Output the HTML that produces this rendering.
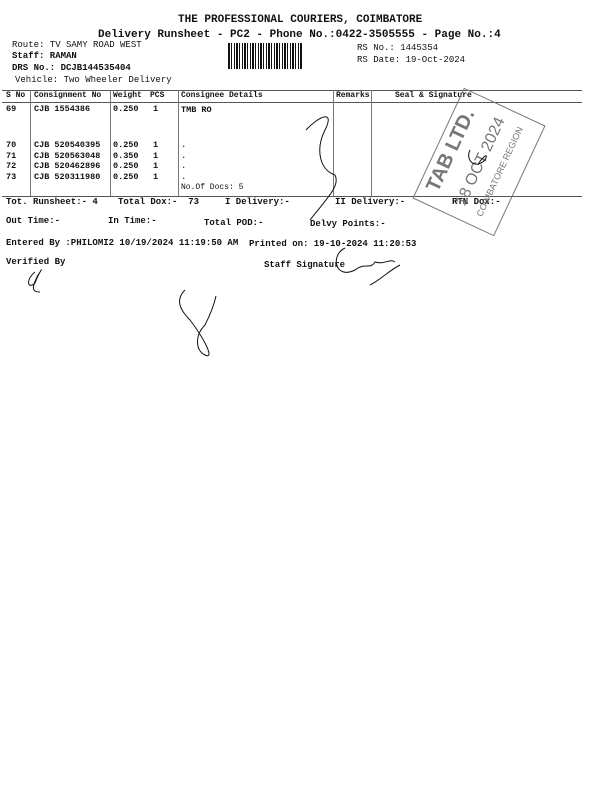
<!DOCTYPE html>
<html><head><style>
body{margin:0;width:600px;height:800px;background:#fff;position:relative;overflow:hidden;font-family:"Liberation Mono",monospace;color:#111}
.t{position:absolute;white-space:nowrap;font-size:9px;line-height:10px}
.b{font-weight:bold}
.r{position:absolute;white-space:nowrap;font-size:8.5px;line-height:10.5px;font-weight:bold}
.h{position:absolute;height:1px;background:#555;left:2px;width:580px}
.v{position:absolute;width:1px;background:#777;top:90px;height:106px}
</style></head><body>
<div class="t b" style="left:178px;top:14px;font-size:11px;line-height:13px">THE PROFESSIONAL COURIERS, COIMBATORE</div>
<div class="t b" style="left:98px;top:29px;font-size:11px;line-height:13px">Delivery Runsheet - PC2 - Phone No.:0422-3505555 - Page No.:4</div>
<div class="t" style="left:12px;top:40px">Route: TV SAMY ROAD WEST</div>
<div class="t b" style="left:12px;top:51px">Staff: RAMAN</div>
<div class="t b" style="left:12px;top:63px">DRS No.: DCJB144535404</div>
<div class="t" style="left:15px;top:75px">Vehicle: Two Wheeler Delivery</div>
<div class="t" style="left:357px;top:43px">RS No.: 1445354</div>
<div class="t" style="left:357px;top:55px">RS Date: 19-Oct-2024</div>
<div style="position:absolute;left:228px;top:43px;width:75px;height:26px;background:repeating-linear-gradient(90deg,#111 0 2px,#fff 2px 3px,#111 3px 4px,#fff 4px 6px,#111 6px 7px,#fff 7px 8px)"></div>
<div class="h" style="top:90px"></div>
<div class="h" style="top:102px"></div>
<div class="h" style="top:196px"></div>
<div class="v" style="left:30px"></div>
<div class="v" style="left:110px"></div>
<div class="v" style="left:178px"></div>
<div class="v" style="left:333px"></div>
<div class="v" style="left:371px"></div>
<div class="t b" style="left:6px;top:91px;font-size:8px">S No</div>
<div class="t b" style="left:34px;top:91px;font-size:8px">Consignment No</div>
<div class="t b" style="left:113px;top:91px;font-size:8px">Weight</div>
<div class="t b" style="left:150px;top:91px;font-size:8px">PCS</div>
<div class="t b" style="left:181px;top:91px;font-size:8px">Consignee Details</div>
<div class="t b" style="left:336px;top:91px;font-size:8px">Remarks</div>
<div class="t b" style="left:395px;top:91px;font-size:8px">Seal &amp; Signature</div>
<div class="r" style="left:6px;top:104px">69</div>
<div class="r" style="left:34px;top:104px">CJB 1554386</div>
<div class="r" style="left:113px;top:104px">0.250</div>
<div class="r" style="left:153px;top:104px">1</div>
<div class="r" style="left:181px;top:105px">TMB RO</div>
<div class="r" style="left:6px;top:140px">70<br>71<br>72<br>73</div>
<div class="r" style="left:34px;top:140px">CJB 520540395<br>CJB 520563048<br>CJB 520462896<br>CJB 520311980</div>
<div class="r" style="left:113px;top:140px">0.250<br>0.350<br>0.250<br>0.250</div>
<div class="r" style="left:153px;top:140px">1<br>1<br>1<br>1</div>
<div class="t" style="left:181px;top:140px;line-height:10.5px">.<br>.<br>.<br>.</div>
<div class="t" style="left:181px;top:183px;font-size:8px">No.Of Docs: 5</div>
<div class="t b" style="left:6px;top:197px">Tot. Runsheet:- 4</div>
<div class="t b" style="left:118px;top:197px">Total Dox:-&nbsp;&nbsp;73</div>
<div class="t b" style="left:225px;top:197px">I Delivery:-</div>
<div class="t b" style="left:335px;top:197px">II Delivery:-</div>
<div class="t b" style="left:452px;top:197px">RTN Dox:-</div>
<div class="t b" style="left:6px;top:216px">Out Time:-</div>
<div class="t b" style="left:108px;top:216px">In Time:-</div>
<div class="t b" style="left:204px;top:218px">Total POD:-</div>
<div class="t b" style="left:310px;top:219px">Delvy Points:-</div>
<div class="t b" style="left:6px;top:238px">Entered By :PHILOMI2 10/19/2024 11:19:50 AM</div>
<div class="t b" style="left:249px;top:239px">Printed on: 19-10-2024 11:20:53</div>
<div class="t b" style="left:6px;top:257px">Verified By</div>
<div class="t b" style="left:264px;top:260px">Staff Signature</div>
<div style="position:absolute;left:434px;top:101px;width:88px;height:120px;border:1px solid #777;transform:rotate(25deg);font-size:20px;color:#777;font-family:'Liberation Sans',sans-serif">
<div style="position:absolute;left:-30px;top:50px;transform:rotate(-90deg);white-space:nowrap;font-weight:bold">TAB LTD.</div>
<div style="position:absolute;left:-2px;top:50px;transform:rotate(-90deg);white-space:nowrap;font-size:16px">18 OCT 2024</div>
<div style="position:absolute;left:18px;top:55px;transform:rotate(-90deg);white-space:nowrap;font-size:9px">COIMBATORE REGION</div>
</div>
<svg width="600" height="800" style="position:absolute;left:0;top:0" fill="none" stroke="#111" stroke-width="1">
<path d="M306 130 C320 115 335 110 325 130 C315 150 320 170 335 175 C340 185 330 195 310 220"/>
<path d="M185 290 C175 300 180 310 190 320 C205 340 215 360 205 355 C195 350 195 335 205 325 C210 315 214 305 216 296"/>
<path d="M35 272 C25 280 28 290 35 283 C40 270 45 265 38 275 C33 285 30 292 40 292"/>
<path d="M345 248 C330 255 335 280 355 270 C365 262 370 270 375 262 C385 265 390 258 395 262 M370 285 C380 280 390 270 400 265"/>
<path d="M470 150 C465 160 475 170 485 160 C490 150 480 160 478 165"/>
</svg>
</body></html>
